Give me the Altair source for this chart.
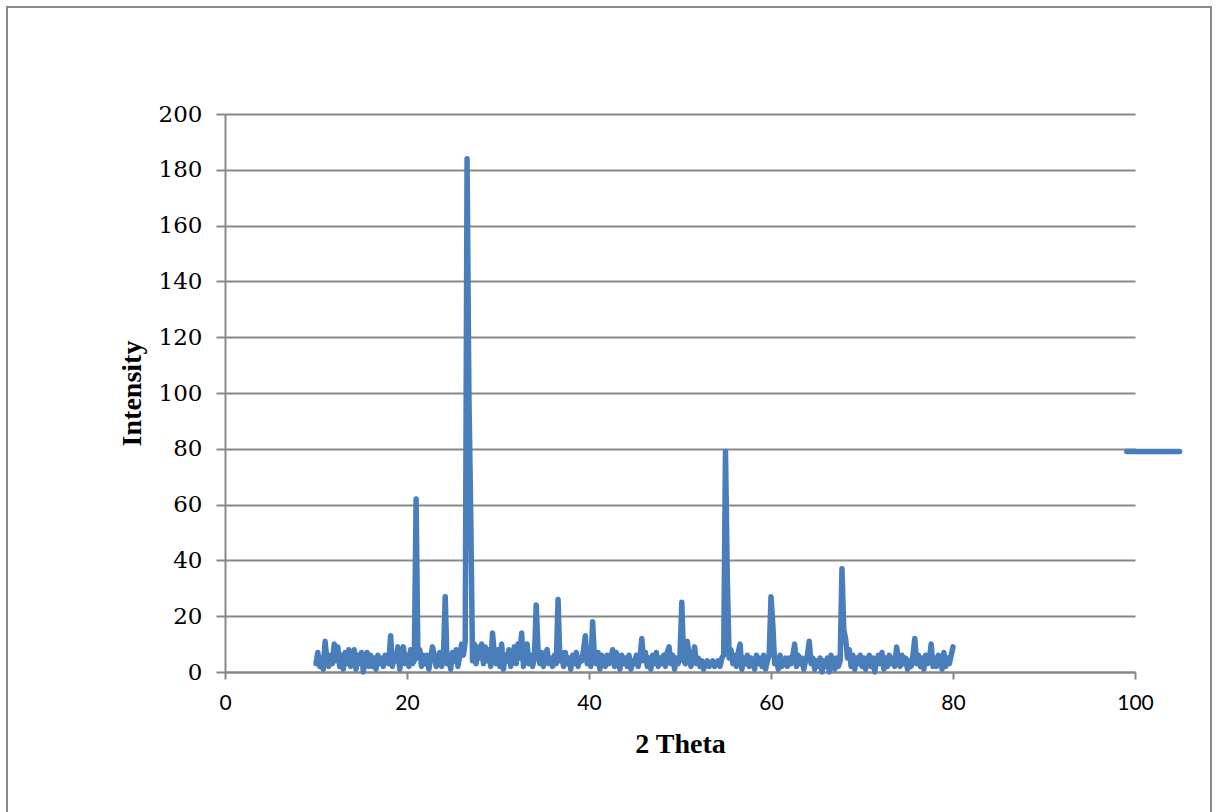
import altair as alt
import pandas as pd

# Diffractogram scan: 2-theta from 10 to 80 degrees at a 0.2 degree step
SCAN_START = 10.0
SCAN_STEP = 0.2
intensity = [
    3, 7, 2, 5, 1, 11, 4, 2, 6, 3,        # 10.0 - 11.8
    10, 4, 9, 2, 6, 1, 7, 3, 8, 2,        # 12.0 - 13.8
    5, 8, 1, 6, 3, 7, 0, 5, 7, 2,         # 14.0 - 15.8
    6, 2, 5, 1, 6, 3, 5, 2, 6, 4,         # 16.0 - 17.8
    3, 13, 2, 6, 4, 9, 1, 5, 9, 3,        # 18.0 - 19.8
    6, 2, 8, 3, 4, 62, 5, 8, 2, 6,        # 20.0 - 21.8
    3, 6, 1, 5, 9, 6, 2, 3, 7, 2,         # 22.0 - 23.8
    5, 27, 3, 6, 1, 7, 4, 8, 2, 6,        # 24.0 - 25.8
    10, 6, 11, 184, 100, 57, 4, 10, 3, 9,  # 26.0 - 27.8
    5, 10, 3, 9, 4, 8, 2, 14, 6, 3,       # 28.0 - 29.8
    8, 2, 10, 1, 6, 4, 8, 2, 5, 9,        # 30.0 - 31.8
    3, 10, 5, 14, 2, 7, 10, 3, 6, 2,      # 32.0 - 33.8
    5, 24, 8, 3, 7, 2, 6, 8, 3, 5,        # 34.0 - 35.8
    2, 6, 3, 26, 4, 7, 2, 7, 3, 5,        # 36.0 - 37.8
    1, 6, 3, 7, 2, 5, 4, 8, 13, 3,        # 38.0 - 39.8
    7, 2, 18, 5, 3, 7, 1, 6, 4, 2,        # 40.0 - 41.8
    6, 3, 5, 8, 2, 7, 4, 1, 6, 3,         # 42.0 - 43.8
    5, 2, 6, 1, 4, 3, 6, 2, 5, 12,        # 44.0 - 45.8
    4, 7, 2, 5, 1, 6, 3, 7, 2, 5,         # 46.0 - 47.8
    3, 6, 2, 7, 9, 3, 6, 1, 5, 3,         # 48.0 - 49.8
    6, 25, 4, 3, 11, 6, 2, 5, 9, 3,       # 50.0 - 51.8
    5, 2, 4, 1, 3, 4, 2, 3, 4, 2,         # 52.0 - 53.8
    3, 4, 2, 5, 6, 79, 33, 5, 8, 3,       # 54.0 - 55.8
    6, 2, 7, 10, 1, 5, 3, 6, 2, 5,        # 56.0 - 57.8
    4, 1, 6, 3, 5, 2, 6, 1, 4, 6,         # 58.0 - 59.8
    27, 17, 3, 5, 1, 6, 2, 4, 5, 2,       # 60.0 - 61.8
    5, 3, 6, 10, 2, 6, 3, 5, 1, 4,        # 62.0 - 63.8
    6, 11, 3, 5, 1, 4, 2, 5, 0, 4,        # 64.0 - 65.8
    2, 5, 0, 6, 3, 1, 5, 2, 4, 37,        # 66.0 - 67.8
    15, 12, 5, 8, 2, 6, 1, 5, 3, 6,       # 68.0 - 69.8
    2, 5, 1, 4, 6, 2, 5, 0, 4, 6,         # 70.0 - 71.8
    3, 7, 1, 5, 2, 6, 3, 5, 2, 9,         # 72.0 - 73.8
    4, 2, 6, 3, 5, 1, 4, 2, 6, 12,        # 74.0 - 75.8
    3, 6, 2, 5, 1, 6, 3, 4, 10, 2,        # 76.0 - 77.8
    5, 2, 6, 5, 1, 7, 2, 5, 3, 6,         # 78.0 - 79.8
    9,                                    # 80.0
]
two_theta = [round(SCAN_START + SCAN_STEP * i, 1) for i in range(len(intensity))]

# Second, flat trace near the right edge of the axis
flat_theta = [99.1, 104.9]
flat_intensity = [79, 79]

x_ticks = [0, 20, 40, 60, 80, 100]
y_ticks = [0, 20, 40, 60, 80, 100, 120, 140, 160, 180, 200]

LINE_BLUE = "#4a7ebb"
GRID_GRAY = "#878787"

scan = pd.DataFrame({"theta": two_theta, "intensity": intensity})
flat = pd.DataFrame({"theta": flat_theta, "intensity": flat_intensity})

x_enc = alt.X(
    "theta:Q",
    scale=alt.Scale(domain=[0, 100], nice=False),
    axis=alt.Axis(
        title="2 Theta",
        values=x_ticks,
        grid=False,
        labelFlush=False,
        labelFont="Lato",
        labelFontSize=21,
        labelColor="#000000",
        labelPadding=13,
        tickSize=7,
        tickWidth=2,
        tickColor=GRID_GRAY,
        domainColor=GRID_GRAY,
        domainWidth=2,
        titleFont="Liberation Serif",
        titleFontSize=28,
        titleFontWeight="bold",
        titleColor="#000000",
        titlePadding=17,
    ),
)
y_enc = alt.Y(
    "intensity:Q",
    scale=alt.Scale(domain=[0, 200], nice=False),
    axis=alt.Axis(
        title="Intensity",
        values=y_ticks,
        grid=True,
        gridColor=GRID_GRAY,
        gridWidth=2,
        labelFlush=False,
        labelFont="DejaVu Serif",
        labelFontSize=23,
        labelColor="#000000",
        labelPadding=14,
        tickSize=9,
        tickWidth=2,
        tickColor=GRID_GRAY,
        domainColor=GRID_GRAY,
        domainWidth=2,
        titleFont="Liberation Serif",
        titleFontSize=28,
        titleFontWeight="bold",
        titleColor="#000000",
        titlePadding=12,
    ),
)

line_style = dict(color=LINE_BLUE, strokeWidth=5.5, strokeCap="round", strokeJoin="round")

scan_line = alt.Chart(scan).mark_line(**line_style).encode(x=x_enc, y=y_enc)
flat_line = alt.Chart(flat).mark_line(**line_style).encode(x="theta:Q", y="intensity:Q")

# Chart-area border around the whole figure
frame = (
    alt.Chart(alt.Data(values=[{}]))
    .mark_rect(fill=None, stroke="#8a8a8a", strokeWidth=2)
    .encode(
        x=alt.value(-218),
        x2=alt.value(986),
        y=alt.value(-107),
        y2=alt.value(720),
    )
)

chart = (
    alt.layer(frame, scan_line, flat_line)
    .properties(
        width=910,
        height=558,
        padding={"left": 225, "top": 114, "right": 81, "bottom": 140},
        autosize=alt.AutoSizeParams(type="none"),
        background="#ffffff",
    )
    .configure_view(stroke=None)
)

chart.save("out.html", embed_options={"renderer": "svg", "actions": False})
